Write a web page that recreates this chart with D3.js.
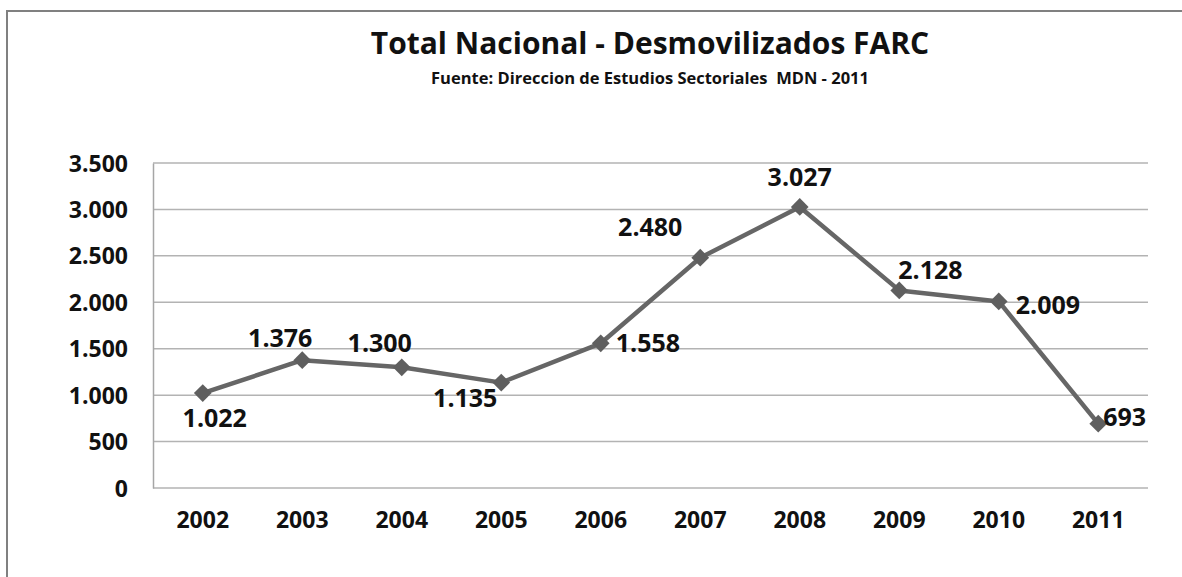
<!DOCTYPE html>
<html>
<head>
<meta charset="utf-8">
<script src="https://cdn.jsdelivr.net/npm/d3@7"></script>
<style>
  body { margin: 0; background: #fff; overflow: hidden; }
  svg { display: block; }
  svg text { font-family: "Open Sans", sans-serif; font-weight: bold; fill: #111; }
</style>
</head>
<body>
<svg id="chart"></svg>
<script>
const years = ['2002', '2003', '2004', '2005', '2006', '2007', '2008', '2009', '2010', '2011'];
const desmovilizados = [1022, 1376, 1300, 1135, 1558, 2480, 3027, 2128, 2009, 693];
const yTicks = [0, 500, 1000, 1500, 2000, 2500, 3000, 3500];

const width = 1182, height = 577;
const margin = { top: 163, right: 34, bottom: 89, left: 153 };

// label placement relative to each point: [dx, dy, anchor]
const labelOffsets = [
  [12, 25, 'middle'],
  [-22, -22, 'middle'],
  [-22, -24, 'middle'],
  [-36, 16, 'middle'],
  [15, 0, 'start'],
  [-50, -30, 'middle'],
  [0, -30, 'middle'],
  [-1, -20, 'start'],
  [17, 4, 'start'],
  [5, -6, 'start']
];

const svg = d3.select('#chart')
  .attr('width', width)
  .attr('height', height);

// outer frame: only the left and top edges show in the picture
svg.append('path')
  .attr('d', `M7,${height} V11 H${width}`)
  .attr('fill', 'none')
  .attr('stroke', '#808080')
  .attr('stroke-width', 2);

const xScale = d3.scaleBand()
  .domain(years)
  .range([margin.left, width - margin.right]);

const yScale = d3.scaleLinear()
  .domain([0, 3500])
  .range([height - margin.bottom, margin.top]);

const fmt = d3.formatLocale({ decimal: ',', thousands: '.', grouping: [3], currency: ['$', ''] }).format(',d');

// gridlines
svg.append('g')
  .selectAll('line')
  .data(yTicks)
  .join('line')
    .attr('x1', margin.left)
    .attr('x2', width - margin.right)
    .attr('y1', d => yScale(d))
    .attr('y2', d => yScale(d))
    .attr('stroke', '#b3b3b3')
    .attr('stroke-width', 1.5);

// y axis
const yAxis = svg.append('g')
  .attr('transform', `translate(${margin.left},0)`)
  .call(d3.axisLeft(yScale).tickValues(yTicks).tickFormat(fmt).tickSize(0).tickPadding(25));
yAxis.select('.domain').attr('stroke', '#a6a6a6').attr('stroke-width', 1.5);
yAxis.selectAll('text').style('font-size', '23px').attr('dy', '0.35em');

// x axis
const xAxis = svg.append('g')
  .attr('transform', `translate(0,${height - margin.bottom})`)
  .call(d3.axisBottom(xScale).tickSize(0).tickPadding(24));
xAxis.select('.domain').remove();
xAxis.selectAll('text').style('font-size', '23px');

// line
const line = d3.line()
  .x((d, i) => xScale(years[i]) + xScale.bandwidth() / 2)
  .y(d => yScale(d));

svg.append('path')
  .datum(desmovilizados)
  .attr('d', line)
  .attr('fill', 'none')
  .attr('stroke', '#666666')
  .attr('stroke-width', 4.5)
  .attr('stroke-linejoin', 'round');

// diamond markers
svg.append('g')
  .selectAll('path')
  .data(desmovilizados)
  .join('path')
    .attr('d', d3.symbol(d3.symbolDiamond2, 200))
    .attr('transform', (d, i) => `translate(${xScale(years[i]) + xScale.bandwidth() / 2},${yScale(d)})`)
    .attr('fill', '#5f5f5f');

// data labels
svg.append('g')
  .selectAll('text')
  .data(desmovilizados)
  .join('text')
    .attr('x', (d, i) => xScale(years[i]) + xScale.bandwidth() / 2 + labelOffsets[i][0])
    .attr('y', (d, i) => yScale(d) + labelOffsets[i][1])
    .attr('dy', '0.35em')
    .attr('text-anchor', (d, i) => labelOffsets[i][2])
    .style('font-size', '25px')
    .text(d => fmt(d));

// titles
svg.append('text')
  .attr('x', 650).attr('y', 54)
  .attr('text-anchor', 'middle')
  .style('font-size', '30px')
  .text('Total Nacional - Desmovilizados FARC');

svg.append('text')
  .attr('x', 650).attr('y', 84)
  .attr('text-anchor', 'middle')
  .style('font-size', '16.5px')
  .style('white-space', 'pre')
  .text('Fuente: Direccion de Estudios Sectoriales  MDN - 2011');
</script>
</body>
</html>
